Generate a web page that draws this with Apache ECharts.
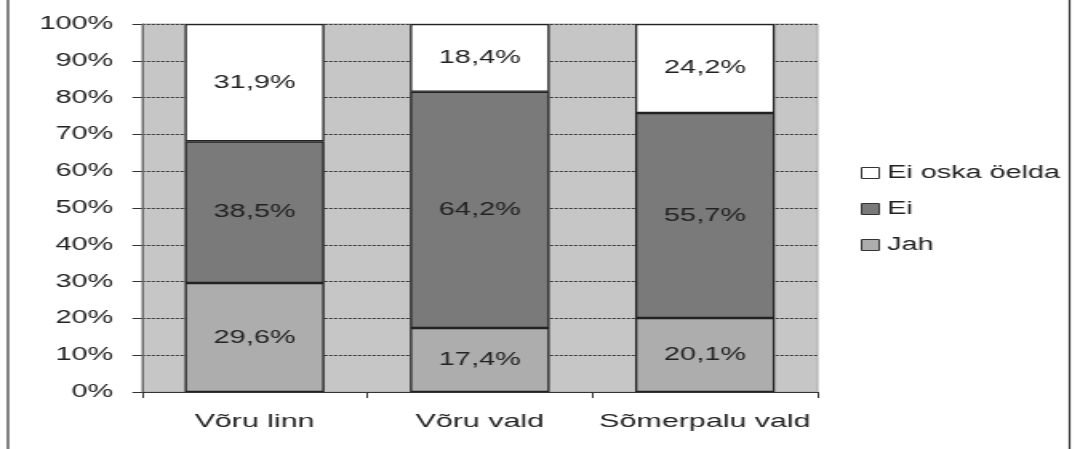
<!DOCTYPE html>
<html>
<head>
<meta charset="utf-8">
<script src="https://cdn.jsdelivr.net/npm/echarts@6/dist/echarts.min.js"></script>
<style>
  html, body { margin: 0; padding: 0; background: #fff; overflow: hidden; }
  /* the reference picture is stretched sideways, so the chart is too */
  #main { width: 672px; height: 449px; transform: scaleX(1.6); transform-origin: 0 0; }
</style>
</head>
<body>
<div id="main"></div>
<script>
var categories = ['Võru linn', 'Võru vald', 'Sõmerpalu vald'];
var jah = [29.6, 17.4, 20.1];
var ei = [38.5, 64.2, 55.7];
var eiOska = [31.9, 18.4, 24.2];
var legendNames = ['Ei oska öelda', 'Ei', 'Jah'];

var font = "'Liberation Sans', Arial, sans-serif";

function pct(p) {
    return p.value.toFixed(1).replace('.', ',') + '%';
}

function makeSeries(name, data, color) {
    return {
        name: name,
        type: 'bar',
        stack: 'all',
        barWidth: '62%',
        data: data,
        itemStyle: { color: color, borderColor: '#222', borderWidth: 1.3 },
        label: {
            show: true,
            position: 'inside',
            formatter: pct,
            color: '#222',
            fontSize: 18,
            fontFamily: font
        }
    };
}

var myChart = echarts.init(document.getElementById('main'));

var option = {
    animation: false,
    backgroundColor: '#fff',
    grid: {
        left: 88.75, right: 161, top: 24, bottom: 57,
        show: true, backgroundColor: '#c6c6c6', borderColor: '#aaa', borderWidth: 1
    },
    legend: {
        orient: 'vertical',
        left: 533, top: 159,
        icon: 'rect',
        itemWidth: 11, itemHeight: 11, itemGap: 18,
        data: legendNames,
        itemStyle: { borderColor: '#333', borderWidth: 1 },
        textStyle: { fontSize: 18, lineHeight: 18, color: '#222', fontFamily: font }
    },
    xAxis: {
        type: 'category',
        data: categories,
        axisLine: { lineStyle: { color: '#333', width: 1.2 } },
        axisTick: { show: true, length: 6, lineStyle: { color: '#333' } },
        axisLabel: { interval: 0, fontSize: 19, color: '#222', fontFamily: font, margin: 20 }
    },
    yAxis: {
        type: 'value',
        min: 0, max: 100, interval: 10,
        axisLine: { show: true, lineStyle: { color: '#666', width: 1 } },
        axisTick: { show: true, length: 6, lineStyle: { color: '#333' } },
        axisLabel: { fontSize: 18, color: '#222', fontFamily: font, margin: 18, formatter: '{value}%' },
        splitLine: { show: true, lineStyle: { color: '#333', width: 1, type: [2, 1] } }
    },
    graphic: [
        { type: 'line', shape: { x1: 5, y1: 0, x2: 5, y2: 449 }, style: { stroke: '#333', lineWidth: 1.2 } },
        { type: 'line', shape: { x1: 668.5, y1: 0, x2: 668.5, y2: 449 }, style: { stroke: '#333', lineWidth: 1.2 } }
    ],
    series: [
        makeSeries('Jah', jah, '#adadad'),
        makeSeries('Ei', ei, '#7a7a7a'),
        makeSeries('Ei oska öelda', eiOska, '#ffffff')
    ]
};
myChart.setOption(option);
</script>
</body>
</html>
